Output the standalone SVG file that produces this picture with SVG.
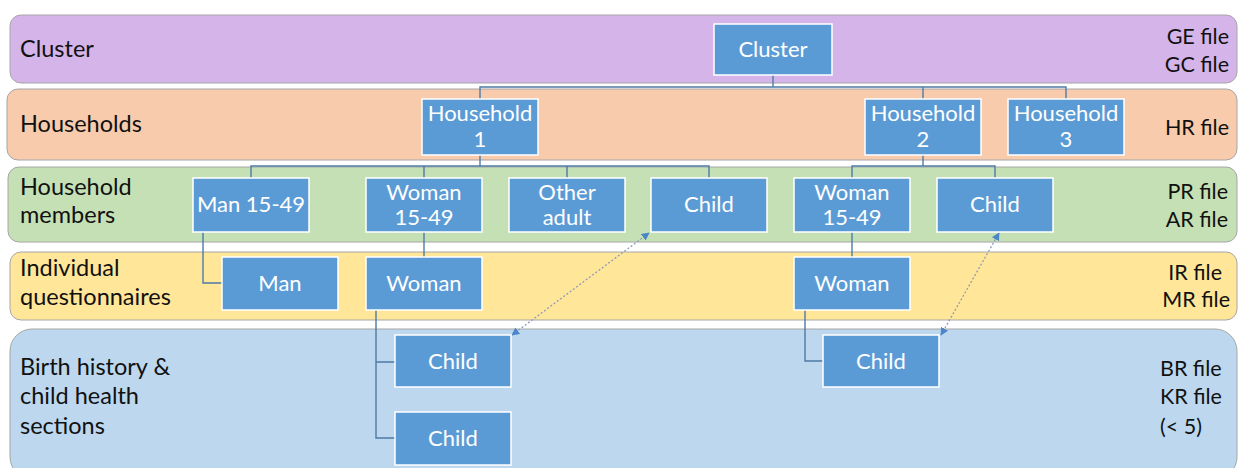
<svg xmlns="http://www.w3.org/2000/svg" width="1239" height="468" viewBox="0 0 1239 468">
<defs>
<style>
.band{stroke:#A6A6A6;stroke-width:1}
.lbl{font-family:Lato,"Open Sans",sans-serif;font-size:23.5px;fill:#111}
.rl{font-family:Lato,"Open Sans",sans-serif;font-size:21.5px;fill:#111}
.re{text-anchor:end}
.node rect{fill:#5B9BD5;stroke:#FFFFFF;stroke-width:1.5}
.node text{font-family:Lato,"Open Sans",sans-serif;font-size:22px;fill:#FFFFFF;text-anchor:middle}
.con{fill:none;stroke:#4E7BA6;stroke-width:1.4}
.dot{fill:none;stroke:#8C9DB8;stroke-width:1.3;stroke-dasharray:2 2}
</style>
<marker id="ah" viewBox="0 0 10 10" refX="9" refY="5" markerWidth="8" markerHeight="8" orient="auto-start-reverse" markerUnits="userSpaceOnUse">
<path d="M0,0 L10,5 L0,10 z" fill="#4A86C8"/>
</marker>
</defs>
<rect width="1239" height="468" fill="#FFFFFF"/>
<g id="bands">
<rect class="band" x="10" y="15" width="1227" height="68" rx="11" fill="#D5B4EA"/>
<rect class="band" x="7" y="89" width="1230" height="71" rx="11" fill="#F8CBAD"/>
<rect class="band" x="8" y="167" width="1229" height="75" rx="11" fill="#C5E0B4"/>
<rect class="band" x="10" y="252" width="1227" height="68" rx="11" fill="#FFE699"/>
<rect class="band" x="10" y="329" width="1227" height="150" rx="22" fill="#BDD7EE"/>
</g>
<g id="labels">
<text class="lbl" x="20" y="57">Cluster</text>
<text class="lbl" x="20" y="132">Households</text>
<text class="lbl" x="20" y="195">Household</text>
<text class="lbl" x="20" y="223">members</text>
<text class="lbl" x="20" y="276">Individual</text>
<text class="lbl" x="20" y="305">questionnaires</text>
<text class="lbl" x="20" y="375">Birth history &amp;</text>
<text class="lbl" x="20" y="404">child health</text>
<text class="lbl" x="20" y="434">sections</text>
<text class="rl re" x="1229" y="44">GE file</text>
<text class="rl re" x="1229" y="72">GC file</text>
<text class="rl re" x="1229" y="135">HR file</text>
<text class="rl re" x="1228" y="199">PR file</text>
<text class="rl re" x="1228" y="227">AR file</text>
<text class="rl re" x="1222" y="280">IR file</text>
<text class="rl re" x="1230" y="307">MR file</text>
<text class="rl" x="1160" y="376">BR file</text>
<text class="rl" x="1160" y="404">KR file</text>
<text class="rl" x="1160" y="434">(&lt; 5)</text>
</g>
<g id="connectors">
<path class="con" d="M773,75 V87 M480,99 V87 H1066 V99 M923,87 V99"/>
<path class="con" d="M480,155 V166 M251,178 V166 H709 V178 M424,166 V178 M567,166 V178"/>
<path class="con" d="M923,155 V166 M852,178 V166 H995 V178"/>
<path class="con" d="M203,232 V283 H222"/>
<path class="con" d="M424,232 V257"/>
<path class="con" d="M852,232 V257"/>
<path class="con" d="M376,310 V438 H395 M376,362 H395"/>
<path class="con" d="M805,310 V361 H823"/>
<path class="dot" d="M512,335 L649,233" marker-start="url(#ah)" marker-end="url(#ah)"/>
<path class="dot" d="M941,335 L999,233" marker-start="url(#ah)" marker-end="url(#ah)"/>
</g>
<g id="n-cluster" class="node"><rect x="714" y="24" width="118" height="51"/><text x="773" y="57">Cluster</text></g>
<g id="n-hh1" class="node"><rect x="422" y="99" width="116" height="56"/><text x="480" y="121">Household</text><text x="480" y="147">1</text></g>
<g id="n-hh2" class="node"><rect x="865" y="99" width="116" height="56"/><text x="923" y="121">Household</text><text x="923" y="147">2</text></g>
<g id="n-hh3" class="node"><rect x="1008" y="99" width="116" height="56"/><text x="1066" y="121">Household</text><text x="1066" y="147">3</text></g>
<g id="n-man1549" class="node"><rect x="193" y="178" width="116" height="54"/><text x="251" y="212">Man 15-49</text></g>
<g id="n-woman1549a" class="node"><rect x="366" y="178" width="116" height="54"/><text x="424" y="200">Woman</text><text x="424" y="225">15-49</text></g>
<g id="n-other" class="node"><rect x="509" y="178" width="116" height="54"/><text x="567" y="200">Other</text><text x="567" y="225">adult</text></g>
<g id="n-child1" class="node"><rect x="651" y="178" width="116" height="54"/><text x="709" y="212">Child</text></g>
<g id="n-woman1549b" class="node"><rect x="794" y="178" width="116" height="54"/><text x="852" y="200">Woman</text><text x="852" y="225">15-49</text></g>
<g id="n-child2" class="node"><rect x="937" y="178" width="116" height="54"/><text x="995" y="212">Child</text></g>
<g id="n-man" class="node"><rect x="222" y="257" width="116" height="53"/><text x="280" y="291">Man</text></g>
<g id="n-woman-a" class="node"><rect x="366" y="257" width="116" height="53"/><text x="424" y="291">Woman</text></g>
<g id="n-woman-b" class="node"><rect x="794" y="257" width="116" height="53"/><text x="852" y="291">Woman</text></g>
<g id="n-bchild1" class="node"><rect x="395" y="335" width="116" height="52"/><text x="453" y="369">Child</text></g>
<g id="n-bchild2" class="node"><rect x="395" y="412" width="116" height="53"/><text x="453" y="446">Child</text></g>
<g id="n-bchild3" class="node"><rect x="823" y="335" width="116" height="52"/><text x="881" y="369">Child</text></g>
</svg>
